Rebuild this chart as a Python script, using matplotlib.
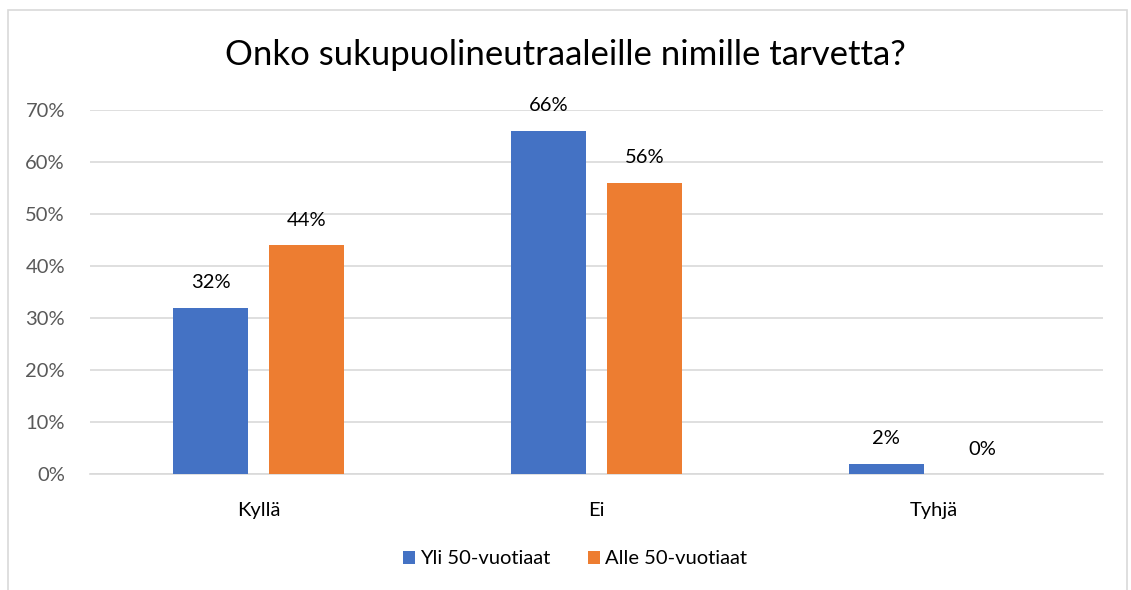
import matplotlib
matplotlib.use("Agg")
import matplotlib.pyplot as plt
import numpy as np
from matplotlib.patches import Rectangle

plt.rcParams['font.family'] = ['Lato', 'DejaVu Sans']

title = "Onko sukupuolineutraaleille nimille tarvetta?"
categories = ["Kyllä", "Ei", "Tyhjä"]
series_names = ["Yli 50-vuotiaat", "Alle 50-vuotiaat"]
yli50 = [32, 66, 2]
alle50 = [44, 56, 0]
yticks = [0, 10, 20, 30, 40, 50, 60, 70]
colors = ["#4472C4", "#ED7D31"]

fig = plt.figure(figsize=(11.31, 5.90), dpi=100)
fig.patches.append(Rectangle((8/1131, -0.01), (1127-8)/1131, 1 - 10/590 + 0.01,
                             transform=fig.transFigure, fill=False,
                             edgecolor="#D9D9D9", linewidth=1.2))

ax = fig.add_axes([90/1131, 1 - 474/590, (1103-90)/1131, (474-110)/590])
x = np.arange(len(categories))
w = 0.222
off = 0.142
for vals, o, c, name in [(yli50, -off, colors[0], series_names[0]), (alle50, off, colors[1], series_names[1])]:
    bars = ax.bar(x + o, vals, width=w, color=c, label=name, zorder=3)
    for b, v in zip(bars, vals):
        ax.text(b.get_x() + b.get_width()/2, v + 4.8, f"{v}%", ha="center", va="center",
                fontsize=14.5, color="#000000")

ax.set_xlim(-0.5, 2.5)
ax.set_ylim(0, 70)
ax.set_yticks(yticks)
ax.set_yticklabels([f"{t}%" for t in yticks], fontsize=14.5, color="#595959")
ax.set_xticks(x)
ax.set_xticklabels(categories, fontsize=14.5, color="#000000")
ax.grid(axis="y", color="#D9D9D9", linewidth=1.2, zorder=0)
ax.tick_params(axis="both", length=0)
ax.tick_params(axis="y", pad=18)
ax.tick_params(axis="x", pad=20)
for s in ["top", "right", "left"]:
    ax.spines[s].set_visible(False)
ax.spines["bottom"].set_color("#D9D9D9")
ax.spines["bottom"].set_linewidth(1.2)

fig.text(0.5, 1 - 55/590, title, ha="center", va="center", fontsize=25, color="#000000")

fig.legend(loc="center", bbox_to_anchor=(575/1131, 1 - 559/590), ncol=2, frameon=False,
           fontsize=14.5, handlelength=0.6, handleheight=0.6, handletextpad=0.25, columnspacing=1.9)

fig.savefig("out.png", dpi=100)
